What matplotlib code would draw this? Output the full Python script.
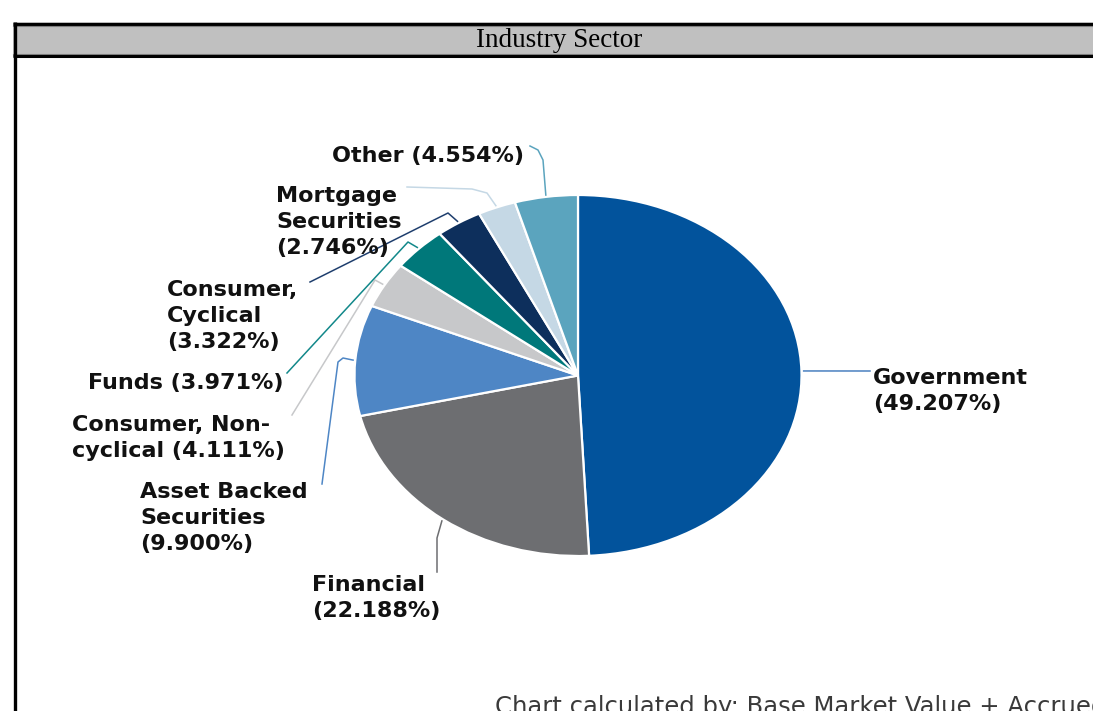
import matplotlib
matplotlib.use('Agg')
import matplotlib.pyplot as plt
from matplotlib.patches import Rectangle
import numpy as np

# ---------------- data ----------------
categories = ['Government', 'Financial', 'Asset Backed\nSecurities',
              'Consumer, Non-\ncyclical', 'Funds', 'Consumer,\nCyclical',
              'Mortgage\nSecurities', 'Other']
values = [49.207, 22.188, 9.900, 4.111, 3.971, 3.322, 2.746, 4.554]
pct_sep = ['\n', '\n', '\n', ' ', ' ', '\n', '\n', ' ']
title = 'Industry Sector'
footnote = 'Chart calculated by: Base Market Value + Accrued'

# ---------------- styles / layout ----------------
slice_colors = ['#02539C', '#6D6E71', '#4E86C5', '#C7C8CA',
                '#00787A', '#0D2F5C', '#C5D8E5', '#5BA4BE']
leader_colors = ['#4A80C0', '#6D6E71', '#4E86C5', '#C7C8CA',
                 '#12888A', '#1F3F6E', '#C5D8E5', '#5BA4BE']
# text anchor (x, last-line baseline y, ha) in pixel coordinates
label_pos = [(873, 410, 'left'), (312, 617, 'left'), (140, 550, 'left'),
             (72, 457, 'left'), (283, 389, 'right'), (167, 348, 'left'),
             (276, 254, 'left'), (524, 162, 'right')]
# leader via points (pixel coordinates), from slice outward to label
leader_via = [
    [(870, 371)],
    [(437, 538), (437, 572)],
    [(343, 358), (338, 362), (322, 484)],
    [(375, 280), (292, 415)],
    [(408, 242), (287, 373)],
    [(448, 213), (310, 282)],
    [(487, 193), (472, 189), (407, 187)],
    [(543, 160), (538, 150), (530, 146)],
]

W, H, DPI = 1093, 711, 100
cx, cy, rx, ry = 578.0, 375.5, 223.5, 180.5

fig = plt.figure(figsize=(W / DPI, H / DPI), dpi=DPI)
fig.patch.set_facecolor('white')

# overlay axes in pixel coordinates
ov = fig.add_axes([0, 0, 1, 1])
ov.set_xlim(0, W)
ov.set_ylim(H, 0)
ov.axis('off')

# pie axes (stretched into an ellipse)
pax = fig.add_axes([(cx - rx) / W, 1 - (cy + ry) / H, 2 * rx / W, 2 * ry / H])
wedges, _ = pax.pie(values, colors=slice_colors, startangle=90, counterclock=False,
                    radius=1.0, wedgeprops=dict(edgecolor='white', linewidth=1.6))
pax.set_aspect('auto')
pax.set_xlim(-1, 1)
pax.set_ylim(-1, 1)
pax.axis('off')
pax.set_zorder(1)
ov.set_zorder(2)
ov.patch.set_alpha(0)

# header frame
ov.add_patch(Rectangle((13, 22), W + 10 - 13, 35, facecolor='#C0C0C0',
                       edgecolor='none', zorder=1))
ov.plot([13, W + 5], [23.5, 23.5], color='black', lw=2.2, solid_capstyle='butt', zorder=3)
ov.plot([13, W + 5], [25.8, 25.8], color='#808080', lw=0.8, zorder=3)
ov.plot([13, W + 5], [54.2, 54.2], color='#808080', lw=0.8, zorder=3)
ov.plot([13, W + 5], [56.3, 56.3], color='black', lw=2.2, solid_capstyle='butt', zorder=3)
ov.plot([14.5, 14.5], [22, H + 5], color='black', lw=2.4, solid_capstyle='butt', zorder=3)
ov.text(559.5, 47, title, ha='center', va='baseline', fontsize=19.5,
        family='Liberation Serif', color='black', zorder=4)

# leader lines and labels
to_px = pax.transData
to_ov = ov.transData.inverted()
for i, w in enumerate(wedges):
    mid = np.deg2rad((w.theta1 + w.theta2) / 2.0)
    sx, sy = to_ov.transform(to_px.transform((np.cos(mid) * 1.01, np.sin(mid) * 1.01)))
    pts = [(sx, sy)] + leader_via[i]
    xs = [p[0] for p in pts]
    ys = [p[1] for p in pts]
    ov.plot(xs, ys, color=leader_colors[i], lw=1.1, solid_joinstyle='round', zorder=3)
    tx, ty, ha = label_pos[i]
    txt = f'{categories[i]}{pct_sep[i]}({values[i]:.3f}%)'
    ov.text(tx, ty, txt, ha=ha, va='baseline', multialignment='left',
            fontsize=16, fontweight='bold', family='DejaVu Sans',
            color='#111111', linespacing=1.38, zorder=4)

ov.text(495, 714, footnote, ha='left', va='baseline', fontsize=17.5,
        family='DejaVu Sans', color='#3a3a3a', zorder=4, clip_on=False)

fig.savefig('out.png', dpi=DPI)
